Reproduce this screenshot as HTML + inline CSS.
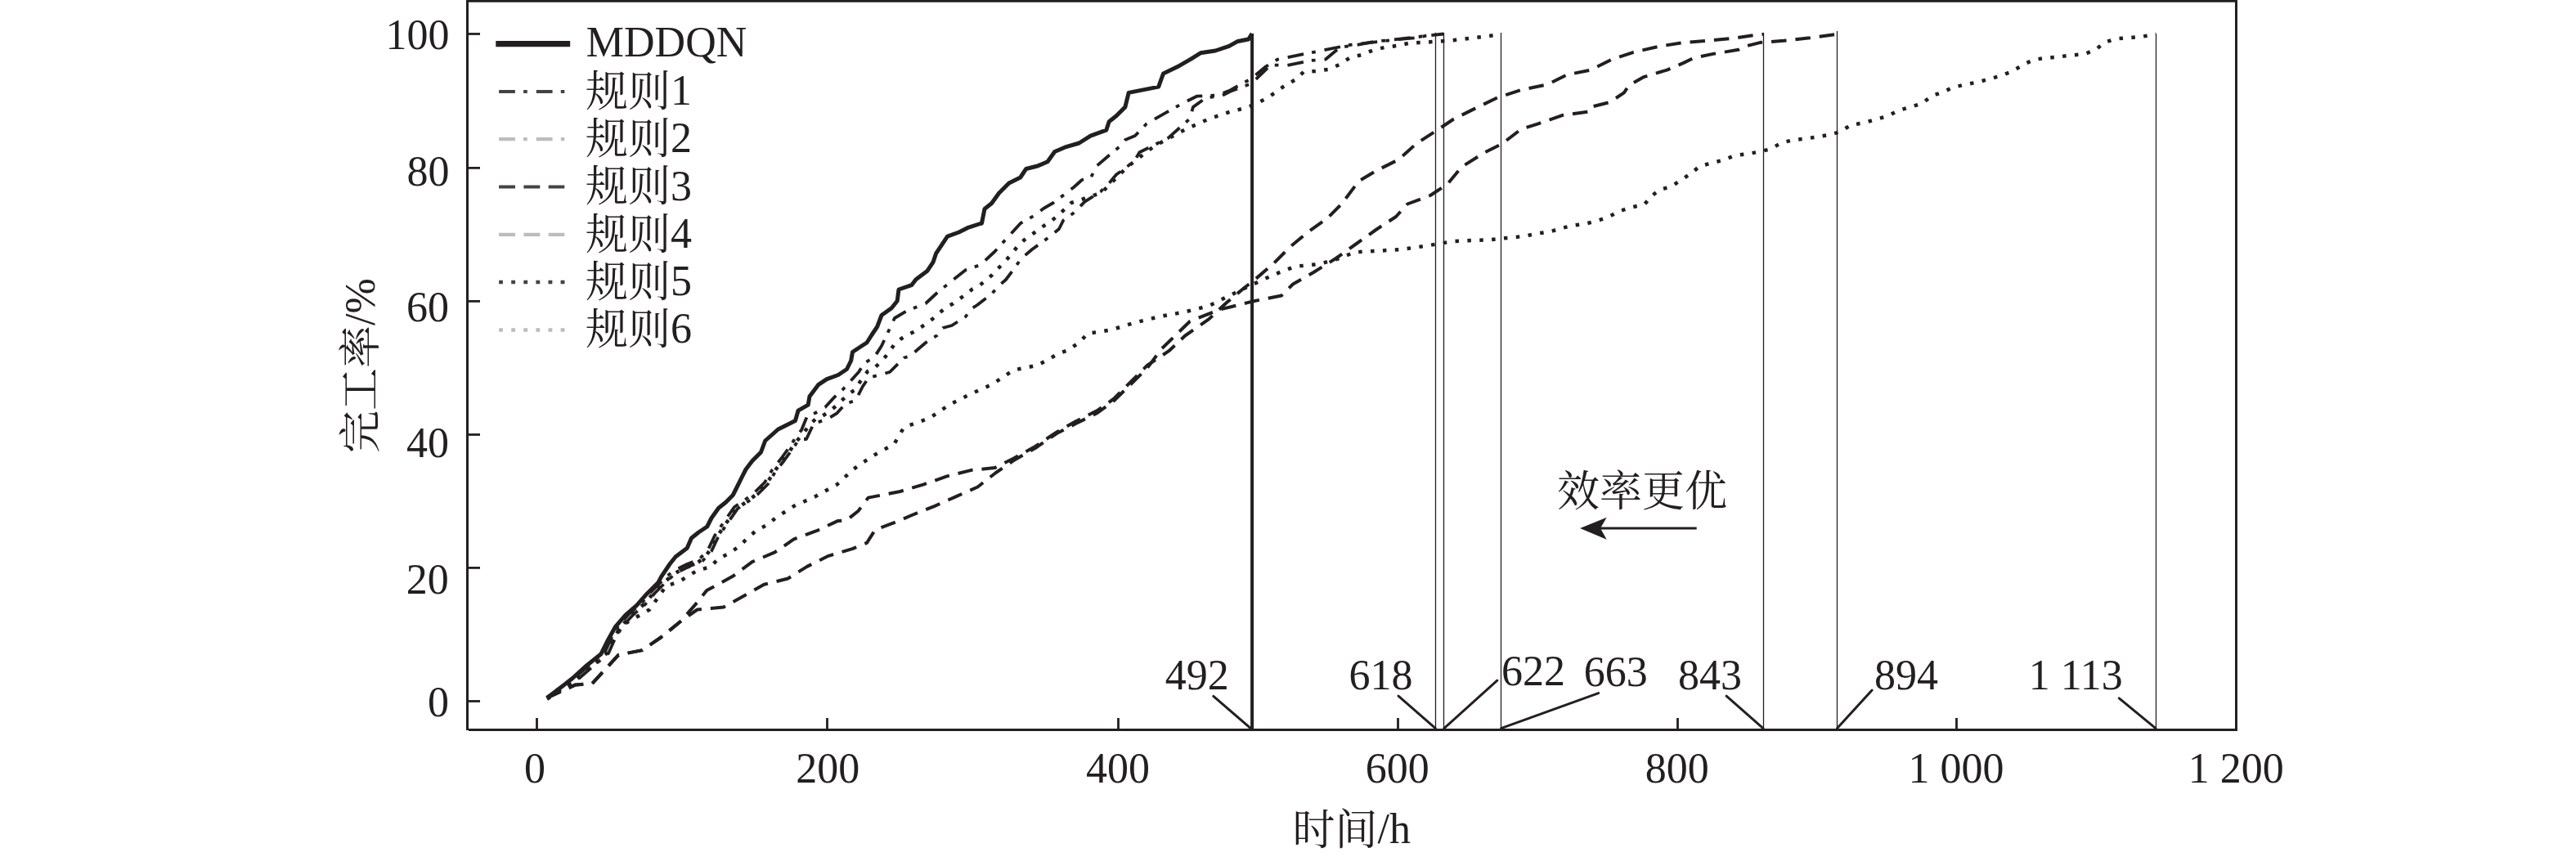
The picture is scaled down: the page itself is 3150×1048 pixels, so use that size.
<!DOCTYPE html>
<html><head><meta charset="utf-8"><style>
html,body{margin:0;padding:0;background:#fff;overflow:hidden;}
svg{display:block;}
.n{font-family:"Liberation Serif","Noto Serif CJK SC",serif;font-size:52px;fill:#231f20;}
</style></head><body>
<svg width="3150" height="1048" viewBox="0 0 3150 1048">
<rect width="3150" height="1048" fill="#fff"/>
<line x1="571.5" y1="0" x2="571.5" y2="893.0" stroke="#231f20" stroke-width="3"/>
<line x1="570.0" y1="1.4" x2="2736.0" y2="1.4" stroke="#231f20" stroke-width="2.8"/>
<line x1="2734.5" y1="0" x2="2734.5" y2="894.0" stroke="#231f20" stroke-width="3"/>
<line x1="573.0" y1="892.5" x2="2736.0" y2="892.5" stroke="#231f20" stroke-width="3"/>
<line x1="571.5" y1="857.5" x2="587" y2="857.5" stroke="#231f20" stroke-width="2.8"/>
<line x1="571.5" y1="694.4" x2="587" y2="694.4" stroke="#231f20" stroke-width="2.8"/>
<line x1="571.5" y1="531.5" x2="587" y2="531.5" stroke="#231f20" stroke-width="2.8"/>
<line x1="571.5" y1="368.4" x2="587" y2="368.4" stroke="#231f20" stroke-width="2.8"/>
<line x1="571.5" y1="205.4" x2="587" y2="205.4" stroke="#231f20" stroke-width="2.8"/>
<line x1="571.5" y1="41.5" x2="587" y2="41.5" stroke="#231f20" stroke-width="2.8"/>
<line x1="656.5" y1="878" x2="656.5" y2="892.5" stroke="#231f20" stroke-width="2.8"/>
<line x1="1011.5" y1="878" x2="1011.5" y2="892.5" stroke="#231f20" stroke-width="2.8"/>
<line x1="1367.5" y1="878" x2="1367.5" y2="892.5" stroke="#231f20" stroke-width="2.8"/>
<line x1="1709.5" y1="878" x2="1709.5" y2="892.5" stroke="#231f20" stroke-width="2.8"/>
<line x1="2051.5" y1="878" x2="2051.5" y2="892.5" stroke="#231f20" stroke-width="2.8"/>
<line x1="2392.5" y1="878" x2="2392.5" y2="892.5" stroke="#231f20" stroke-width="2.8"/>
<text x="549.45" y="59.50" text-anchor="end" class="n">100</text>
<text x="549.55" y="226.50" text-anchor="end" class="n">80</text>
<text x="548.90" y="393.35" text-anchor="end" class="n">60</text>
<text x="549.00" y="559.45" text-anchor="end" class="n">40</text>
<text x="548.65" y="725.90" text-anchor="end" class="n">20</text>
<text x="549.00" y="876.45" text-anchor="end" class="n">0</text>
<text x="653.95" y="957.05" text-anchor="middle" class="n">0</text>
<text x="1012.15" y="956.95" text-anchor="middle" class="n">200</text>
<text x="1366.95" y="956.95" text-anchor="middle" class="n">400</text>
<text x="1708.75" y="956.95" text-anchor="middle" class="n">600</text>
<text x="2050.65" y="956.95" text-anchor="middle" class="n">800</text>
<text x="2391.90" y="956.95" text-anchor="middle" class="n">1 000</text>
<text x="2734.15" y="956.95" text-anchor="middle" class="n">1 200</text>
<text x="1424.65" y="842.55" text-anchor="start" class="n">492</text>
<text x="1649.50" y="842.75" text-anchor="start" class="n">618</text>
<text x="1835.95" y="838.00" text-anchor="start" class="n">622</text>
<text x="1936.85" y="838.50" text-anchor="start" class="n">663</text>
<text x="2052.00" y="842.60" text-anchor="start" class="n">843</text>
<text x="2292.05" y="842.60" text-anchor="start" class="n">894</text>
<text x="2480.65" y="842.70" text-anchor="start" class="n">1 113</text>
<text x="716.80" y="69.20" text-anchor="start" class="n">MDDQN</text>
<text x="1652.70" y="1031.00" text-anchor="middle" class="n"><tspan dy="1.8">时间</tspan><tspan dy="-1.8">/h</tspan></text>
<text transform="translate(457.5,447) rotate(-90)" x="0" y="0" text-anchor="middle" class="n"><tspan dy="1.8">完工率</tspan><tspan dy="-1.8">/%</tspan></text>
<line x1="606.3" y1="53.6" x2="697.2" y2="53.6" stroke="#231f20" stroke-width="7.2"/>
<line x1="610.1" y1="111.9" x2="690.3" y2="111.9" stroke="#464244" stroke-width="4.0" stroke-dasharray="19.8 10.2 4.7 11"/>
<text x="716" y="127.9" class="n"><tspan dy="1.8">规则</tspan><tspan dy="-1.8">1</tspan></text>
<line x1="610.1" y1="170.2" x2="690.3" y2="170.2" stroke="#bcbcbc" stroke-width="4.3" stroke-dasharray="19.8 10.2 4.7 11"/>
<text x="716" y="186.2" class="n"><tspan dy="1.8">规则</tspan><tspan dy="-1.8">2</tspan></text>
<line x1="610.1" y1="228.49999999999997" x2="690.3" y2="228.49999999999997" stroke="#464244" stroke-width="4.2" stroke-dasharray="19.9 10.4"/>
<text x="716" y="244.5" class="n"><tspan dy="1.8">规则</tspan><tspan dy="-1.8">3</tspan></text>
<line x1="610.1" y1="286.8" x2="690.3" y2="286.8" stroke="#bcbcbc" stroke-width="4.3" stroke-dasharray="19.9 10.4"/>
<text x="716" y="302.8" class="n"><tspan dy="1.8">规则</tspan><tspan dy="-1.8">4</tspan></text>
<line x1="610.1" y1="345.1" x2="690.9" y2="345.1" stroke="#464244" stroke-width="4.5" stroke-dasharray="4.85 10.25"/>
<text x="716" y="361.1" class="n"><tspan dy="1.8">规则</tspan><tspan dy="-1.8">5</tspan></text>
<line x1="610.1" y1="403.4" x2="690.9" y2="403.4" stroke="#bcbcbc" stroke-width="4.5" stroke-dasharray="4.85 10.25"/>
<text x="716" y="419.4" class="n"><tspan dy="1.8">规则</tspan><tspan dy="-1.8">6</tspan></text>
<line x1="1531.1" y1="41" x2="1531.1" y2="892.5" stroke="#231f20" stroke-width="4"/>
<line x1="1755.5" y1="40" x2="1755.5" y2="892.5" stroke="#231f20" stroke-width="1.3"/>
<line x1="1765.5" y1="40" x2="1765.5" y2="892.5" stroke="#231f20" stroke-width="1.3"/>
<line x1="1835.5" y1="40" x2="1835.5" y2="892.5" stroke="#231f20" stroke-width="1.3"/>
<line x1="2156.5" y1="40" x2="2156.5" y2="892.5" stroke="#231f20" stroke-width="1.3"/>
<line x1="2246.5" y1="38" x2="2246.5" y2="892.5" stroke="#231f20" stroke-width="1.3"/>
<line x1="2636.5" y1="41" x2="2636.5" y2="892.5" stroke="#231f20" stroke-width="1.3"/>
<line x1="1483.8" y1="851.4" x2="1529.8" y2="891.1" stroke="#231f20" stroke-width="3" stroke-linecap="round"/>
<line x1="1710" y1="851.1" x2="1755.3" y2="890.6" stroke="#231f20" stroke-width="3" stroke-linecap="round"/>
<line x1="1765.9" y1="890.6" x2="1830.8" y2="832.2" stroke="#231f20" stroke-width="3" stroke-linecap="round"/>
<line x1="1835.6" y1="890.6" x2="1954.7" y2="847.6" stroke="#231f20" stroke-width="3" stroke-linecap="round"/>
<line x1="2111.1" y1="851.2" x2="2156" y2="890.6" stroke="#231f20" stroke-width="3" stroke-linecap="round"/>
<line x1="2246.6" y1="890.6" x2="2289.1" y2="844.1" stroke="#231f20" stroke-width="3" stroke-linecap="round"/>
<line x1="2591.3" y1="853.8" x2="2636" y2="890.6" stroke="#231f20" stroke-width="3" stroke-linecap="round"/>
<text x="1904.00" y="619.00" class="n">效率更优</text>
<line x1="1957" y1="646" x2="2074.7" y2="646" stroke="#231f20" stroke-width="3.2"/>
<path d="M1932.1 646 L1964.7 632.8 L1957 646 L1964.7 659.7 Z" fill="#231f20"/>
<path d="M668.8 853.4 L700.0 830.0 L740.0 795.0 L760.0 765.0 L794.2 745.5 L814.5 716.6 L829.9 711.5 L853.0 697.4 L868.4 693.5 L878.6 683.2 L891.5 676.8 L904.3 667.8 L914.6 657.6 L924.9 648.6 L937.7 642.2 L948.8 633.1 L970.9 618.8 L997.1 607.1 L1023.4 592.6 L1043.8 573.6 L1067.2 557.5 L1093.4 543.0 L1105.4 522.5 L1137.5 510.9 L1160.9 494.8 L1187.1 481.7 L1213.4 470.0 L1239.6 452.5 L1268.8 446.7 L1295.1 432.1 L1306.7 428.0 L1321.3 417.5 L1330.1 407.6 L1344.7 405.8 L1359.3 403.2 L1388.4 394.4 L1417.6 387.2 L1449.5 381.3 L1478.4 374.0 L1516.3 355.1 L1557.1 336.1 L1583.4 325.9 L1612.6 323.0 L1638.8 315.7 L1656.3 308.4 L1682.6 306.9 L1714.7 304.9 L1746.8 300.2 L1775.9 295.2 L1805.3 293.8 L1820.1 293.4 L1835.0 291.7 L1850.4 290.3 L1865.6 288.5 L1880.9 285.4 L1895.4 283.3 L1909.9 278.9 L1924.3 275.6 L1939.2 273.6 L1954.0 269.8 L1968.0 264.7 L1981.2 257.9 L1995.2 253.5 L2010.9 250.0 L2018.8 240.4 L2029.3 232.0 L2043.3 228.3 L2055.6 220.3 L2067.5 212.4 L2078.3 203.3 L2092.3 199.6 L2106.9 195.9 L2121.5 190.1 L2136.1 188.3 L2150.7 185.7 L2165.2 182.2 L2178.4 174.6 L2193.0 171.1 L2207.6 169.7 L2222.1 167.3 L2236.7 165.0 L2251.3 160.9 L2263.0 152.8 L2279.0 150.4 L2293.6 146.0 L2308.2 142.0 L2321.3 135.2 L2335.9 130.9 L2350.5 126.5 L2362.2 117.2 L2375.3 112.8 L2388.4 106.7 L2404.5 103.2 L2419.1 100.2 L2433.7 96.4 L2448.2 92.1 L2461.6 86.8 L2474.5 78.6 L2488.6 72.6 L2503.2 70.8 L2518.6 69.3 L2533.5 67.5 L2548.4 66.2 L2562.3 61.1 L2573.6 51.8 L2588.2 47.2 L2602.9 46.2 L2617.8 44.9 L2633.2 42.6 L2636.3 41.8" fill="none" stroke="#231f20" stroke-width="4.5" stroke-linejoin="round" stroke-dasharray="4.5 10.4"/>
<path d="M668.8 853.4 L703.8 837.4 L724.2 835.9 L756.3 800.9 L785.5 795.1 L808.8 779.0 L832.1 760.0 L852.6 745.5 L884.7 742.5 L910.9 728.0 L934.3 714.8 L963.4 707.5 L986.8 692.9 L1013.0 679.8 L1042.2 671.1 L1060.0 663.8 L1070.1 648.0 L1093.4 639.2 L1113.8 630.5 L1143.0 618.8 L1169.3 607.1 L1195.5 595.5 L1217.8 578.0 L1239.6 563.0 L1265.9 548.0 L1292.2 530.0 L1315.5 518.0 L1341.8 505.0 L1362.2 490.0 L1382.6 470.0 L1403.0 450.0 L1420.0 427.0 L1455.0 393.0 L1490.0 379.0 L1532.0 368.5 L1567.0 361.5 L1581.0 347.5 L1605.5 333.5 L1633.5 316.0 L1658.0 298.5 L1682.5 281.0 L1707.0 265.0 L1721.0 249.5 L1749.0 239.0 L1770.0 225.0 L1787.5 204.0 L1815.5 186.5 L1836.5 176.0 L1860.0 158.0 L1880.9 151.3 L1910.1 141.1 L1942.2 136.7 L1945.1 130.9 L1968.4 125.0 L1985.9 113.4 L1991.8 104.6 L2009.3 94.4 L2038.4 85.6 L2058.8 76.9 L2070.4 71.1 L2093.8 66.1 L2125.9 60.8 L2134.6 56.5 L2152.1 52.1 L2181.3 49.8 L2213.4 46.3 L2239.6 42.8 L2246.5 41.9" fill="none" stroke="#231f20" stroke-width="4.0" stroke-linejoin="round" stroke-dasharray="18.5 11"/>
<path d="M668.8 853.4 L703.8 837.4 L724.2 835.9 L756.3 800.9 L785.5 795.1 L808.8 779.0 L832.1 760.0 L852.6 736.7 L864.2 722.1 L896.3 704.6 L919.7 687.1 L947.4 675.4 L970.7 659.4 L998.4 649.2 L1024.7 636.9 L1035.1 636.3 L1049.6 624.7 L1061.7 608.6 L1099.6 601.3 L1128.8 592.6 L1158.0 582.4 L1187.1 575.1 L1216.3 572.1 L1239.6 560.5 L1265.9 545.9 L1292.2 528.4 L1315.5 515.2 L1341.8 502.1 L1362.2 487.5 L1382.6 467.1 L1403.0 446.7 L1429.3 429.2 L1449.2 410.5 L1478.4 390.1 L1500.0 370.0 L1521.5 352.0 L1532.0 344.0 L1556.5 323.0 L1577.5 302.0 L1598.5 284.5 L1623.0 267.0 L1640.5 249.5 L1661.5 221.5 L1682.5 209.0 L1710.5 195.0 L1731.5 176.0 L1756.0 160.0 L1777.0 146.0 L1805.0 132.0 L1832.0 119.0 L1860.5 109.9 L1892.6 103.2 L1915.9 91.5 L1945.1 85.6 L1971.3 72.5 L1997.6 63.8 L2029.7 56.5 L2058.9 52.1 L2087.9 49.8 L2120.0 46.8 L2149.2 42.5 L2156.5 41.9" fill="none" stroke="#231f20" stroke-width="4.0" stroke-linejoin="round" stroke-dasharray="18.5 11"/>
<path d="M669.0 854.8 L677.0 849.6 L685.0 844.4 L693.0 839.2 L701.0 833.9 L709.0 827.5 L717.0 820.5 L725.0 813.7 L733.0 807.0 L741.0 799.6 L749.0 784.0 L757.0 769.8 L765.0 760.0 L773.0 751.7 L781.0 744.7 L789.0 737.2 L797.0 727.8 L805.0 719.5 L813.0 711.6 L821.0 704.2 L829.0 699.0 L837.0 695.0 L845.0 691.3 L853.0 688.1 L861.0 682.1 L869.0 671.9 L877.0 656.3 L885.0 644.0 L893.0 632.5 L901.0 622.2 L909.0 616.3 L917.0 610.7 L925.0 604.3 L933.0 596.5 L941.0 585.8 L949.0 573.7 L957.0 563.4 L965.0 552.6 L973.0 540.6 L981.0 531.8 L989.0 520.9 L997.0 512.7 L1005.0 509.0 L1013.0 504.1 L1021.0 497.5 L1029.0 490.0 L1037.0 482.5 L1045.0 476.9 L1053.0 464.8 L1061.0 454.1 L1069.0 450.1 L1077.0 442.8 L1085.0 433.5 L1093.0 422.1 L1101.0 414.9 L1109.0 409.8 L1117.0 405.9 L1125.0 400.9 L1133.0 395.7 L1141.0 389.4 L1149.0 382.4 L1157.0 376.0 L1165.0 371.5 L1173.0 365.7 L1181.0 360.0 L1189.0 353.5 L1197.0 349.6 L1205.0 343.3 L1213.0 336.4 L1221.0 327.8 L1229.0 319.8 L1237.0 310.3 L1245.0 300.4 L1253.0 293.0 L1261.0 287.3 L1269.0 281.6 L1277.0 275.8 L1285.0 270.4 L1293.0 264.4 L1310.0 248.0 L1346.7 235.9 L1378.8 203.8 L1410.9 179.0 L1448.8 158.6 L1478.0 145.5 L1504.2 136.7 L1521.7 132.3 L1533.4 128.0 L1548.0 120.7 L1561.0 112.0 L1572.0 104.0 L1585.0 97.0 L1594.0 88.0 L1608.0 87.0 L1624.0 85.0 L1638.0 79.0 L1650.0 71.0 L1665.0 67.0 L1680.0 61.0 L1693.0 58.0 L1708.0 56.0 L1722.0 53.0 L1738.0 52.0 L1753.0 51.0 L1768.0 50.0 L1783.0 48.6 L1798.0 46.8 L1813.0 45.0 L1828.0 43.0 L1835.3 41.9" fill="none" stroke="#231f20" stroke-width="4.5" stroke-linejoin="round" stroke-dasharray="4.5 10.4"/>
<path d="M668.8 853.4 L704.0 833.0 L726.0 814.0 L744.0 799.0 L752.0 781.0 L761.0 766.0 L774.0 752.0 L789.0 739.0 L801.0 725.0 L814.0 712.0 L826.0 701.0 L844.0 692.0 L859.0 686.0 L870.0 674.0 L878.0 657.0 L888.0 642.0 L902.0 622.0 L918.0 611.0 L927.0 604.0 L939.0 592.0 L948.0 577.0 L959.0 563.0 L970.0 548.0 L977.0 537.0 L986.0 537.0 L995.0 518.0 L1011.0 512.7 L1023.0 505.7 L1034.0 493.5 L1046.0 490.0 L1055.0 472.5 L1062.0 462.0 L1088.0 455.0 L1105.5 437.5 L1112.5 435.7 L1132.0 419.0 L1146.0 410.0 L1153.0 401.0 L1164.0 398.0 L1181.0 387.0 L1187.0 378.0 L1195.0 373.0 L1213.0 359.0 L1221.0 350.0 L1230.0 342.0 L1242.0 326.0 L1248.0 317.0 L1262.0 305.0 L1280.0 292.0 L1295.0 280.0 L1300.2 269.5 L1312.5 260.7 L1326.5 246.7 L1345.7 234.5 L1356.2 224.0 L1365.0 213.5 L1377.2 204.7 L1387.7 196.0 L1393.4 186.3 L1428.4 168.8 L1454.6 145.5 L1459.0 130.9 L1475.1 119.2 L1492.6 117.7 L1504.0 112.0 L1530.5 102.0 L1553.8 79.5 L1574.3 79.8 L1603.4 74.0 L1621.0 72.5 L1638.4 58.0 L1658.9 55.0 L1682.0 50.6 L1700.0 49.0 L1765.3 41.5" fill="none" stroke="#231f20" stroke-width="3.8" stroke-linejoin="round" stroke-dasharray="19.8 10.2 4.7 11"/>
<path d="M668.8 853.4 L700.0 831.0 L722.0 812.0 L740.0 797.0 L748.0 779.0 L757.0 764.0 L770.0 750.0 L785.0 737.0 L797.0 723.0 L810.0 710.0 L822.0 699.0 L840.0 690.0 L855.0 684.0 L866.0 672.0 L874.0 655.0 L884.0 640.0 L898.0 620.0 L914.0 609.0 L923.0 602.0 L935.0 590.0 L944.0 575.0 L955.0 561.0 L966.0 546.0 L973.0 535.0 L980.0 526.0 L987.0 509.0 L997.0 505.0 L1009.0 498.0 L1020.0 486.0 L1030.0 477.0 L1050.0 455.0 L1057.0 444.0 L1069.0 437.0 L1078.0 423.0 L1094.0 389.0 L1109.0 380.0 L1132.0 371.0 L1146.0 358.0 L1162.0 345.0 L1181.0 330.0 L1199.0 324.0 L1216.0 308.0 L1237.0 285.0 L1248.0 273.0 L1264.0 264.0 L1276.0 255.0 L1288.0 248.0 L1304.0 236.0 L1313.0 229.0 L1323.0 220.0 L1334.0 217.0 L1341.0 203.0 L1355.0 191.0 L1372.0 177.0 L1376.0 171.0 L1388.0 166.0 L1402.1 151.3 L1443.0 128.0 L1463.4 117.7 L1489.6 116.3 L1504.2 110.4 L1530.5 95.9 L1548.0 81.3 L1562.6 72.5 L1606.3 63.8 L1650.1 55.0 L1700.0 49.2 L1729.2 46.3 L1746.7 43.3 L1755.6 41.5" fill="none" stroke="#231f20" stroke-width="3.8" stroke-linejoin="round" stroke-dasharray="19.8 10.2 4.7 11"/>
<path d="M668.8 853.4 L689.2 838.0 L700.0 829.5 L717.5 813.7 L735.0 799.7 L743.7 782.2 L752.5 766.5 L764.7 752.5 L778.7 740.2 L791.0 726.2 L805.0 712.2 L808.7 705.2 L819.2 689.5 L826.2 680.7 L840.2 670.2 L845.5 658.0 L854.2 651.0 L864.7 644.0 L870.0 633.5 L878.7 621.2 L887.5 614.2 L896.2 605.5 L901.5 595.0 L906.7 584.5 L912.0 574.0 L920.0 563.5 L930.5 553.0 L935.7 539.0 L951.5 525.0 L972.5 514.5 L976.0 502.2 L988.2 495.2 L990.0 484.7 L1000.5 470.7 L1011.0 463.7 L1025.0 458.5 L1035.5 451.5 L1040.7 441.0 L1042.5 430.5 L1053.0 423.5 L1060.0 419.0 L1065.7 410.0 L1072.7 399.5 L1078.0 385.5 L1090.2 376.7 L1097.2 368.0 L1099.0 354.0 L1114.7 348.7 L1120.0 341.7 L1134.0 331.2 L1141.0 320.7 L1144.5 310.2 L1151.5 299.7 L1158.5 289.2 L1172.5 284.0 L1183.0 278.7 L1198.7 273.5 L1200.5 273.0 L1204.0 255.5 L1212.7 248.5 L1221.5 236.2 L1233.7 224.0 L1247.7 217.0 L1254.7 206.5 L1268.7 203.0 L1281.0 197.7 L1289.7 185.5 L1302.0 180.2 L1319.5 175.0 L1333.5 166.2 L1352.7 159.2 L1356.2 148.7 L1365.0 141.7 L1375.9 130.9 L1380.2 113.4 L1416.7 106.1 L1422.5 90.0 L1440.0 81.6 L1456.8 71.8 L1468.0 64.8 L1486.2 62.0 L1503.0 56.4 L1512.8 50.8 L1526.8 48.0 L1531.0 41.0" fill="none" stroke="#231f20" stroke-width="5.0" stroke-linejoin="round"/>
</svg>
</body></html>
